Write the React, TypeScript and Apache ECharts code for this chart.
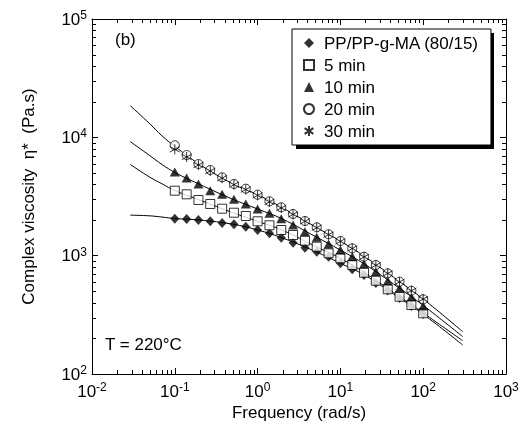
import React, { useEffect, useRef } from "react";
import * as echarts from "echarts";

const FONT = "'Liberation Sans', Arial, sans-serif";

// Frequencies of measured points (rad/s)
const freq = [0.1, 0.139, 0.193, 0.268, 0.373, 0.518, 0.72, 1.0, 1.39, 1.93, 2.68, 3.73, 5.18, 7.2, 10, 13.9, 19.3, 26.8, 37.3, 51.8, 72.0, 100];

const seriesNames = ["PP/PP-g-MA (80/15)", "5 min", "10 min", "20 min", "30 min"];

const ppBlend = [2053, 2041, 2001, 1952, 1889, 1841, 1757, 1648, 1545, 1419, 1287, 1168, 1080, 980, 862, 767, 687, 587, 508, 439, 375, 321];
const min5 = [3540, 3300, 2954, 2734, 2494, 2307, 2164, 1952, 1806, 1648, 1495, 1338, 1191, 1047, 950, 834, 718, 614, 520, 450, 383, 326];
const min10 = [5095, 4533, 4034, 3540, 3300, 2995, 2734, 2480, 2281, 2053, 1816, 1594, 1430, 1255, 1116, 980, 851, 732, 611, 530, 447, 375];
const min20 = [8566, 7090, 5952, 5297, 4595, 4034, 3681, 3275, 2880, 2563, 2250, 1963, 1737, 1516, 1330, 1154, 980, 834, 710, 603, 506, 428];
const min30 = [7925, 6820, 5840, 5200, 4520, 3980, 3620, 3230, 2850, 2530, 2230, 1950, 1725, 1505, 1320, 1150, 975, 830, 708, 600, 505, 430];

// Fitted model curves
const fitFreq = [0.029, 0.05, 0.07, 0.1, 0.2, 0.5, 1, 2, 5, 10, 20, 50, 100, 300];
const fitTop = [18500, 13000, 10300, 8400, 5900, 4050, 3280, 2540, 1750, 1330, 975, 615, 430, 228];
const fit10 = [9200, 7000, 5900, 5050, 4000, 3000, 2480, 2040, 1450, 1116, 840, 540, 380, 207];
const fit5 = [5900, 4600, 4050, 3550, 2950, 2310, 1950, 1640, 1200, 950, 710, 458, 328, 191];
const fitBlend = [2200, 2170, 2120, 2060, 2000, 1845, 1650, 1410, 1085, 862, 680, 445, 320, 176];

// Axis ranges and minor tick values
const X_MIN = 0.01;
const X_MAX = 1000;
const Y_MIN = 100;
const Y_MAX = 100000;
const xMinorTicks = [
  0.02, 0.03, 0.04, 0.05, 0.06, 0.07, 0.08, 0.09,
  0.2, 0.3, 0.4, 0.5, 0.6, 0.7, 0.8, 0.9,
  2, 3, 4, 5, 6, 7, 8, 9,
  20, 30, 40, 50, 60, 70, 80, 90,
  200, 300, 400, 500, 600, 700, 800, 900,
];
const yMinorTicks = [
  200, 300, 400, 500, 600, 700, 800, 900,
  2000, 3000, 4000, 5000, 6000, 7000, 8000, 9000,
  20000, 30000, 40000, 50000, 60000, 70000, 80000, 90000,
];

const zip = (xs: number[], ys: number[]) => xs.map((x, i) => [x, ys[i]]);

const powLabel = (v: number) => {
  const e = Math.round(Math.log10(v));
  return `{b|10}{s|${e}}`;
};
const labelRich = {
  b: { fontSize: 17, lineHeight: 20, color: "#000", fontFamily: FONT },
  s: { fontSize: 12, lineHeight: 12, verticalAlign: "top", color: "#000", fontFamily: FONT },
};

const STAR = "path://M5,0L5,10M0.6,2.2L9.4,7.8M0.6,7.8L9.4,2.2";

export default function App() {
  const ref = useRef<HTMLDivElement>(null);
  useEffect(() => {
    if (!ref.current) return;
    const chart = echarts.init(ref.current, null, { renderer: "svg" });
    const axisLine = { show: true, onZero: false, lineStyle: { color: "#000", width: 1 } };
    const axisTick = { show: true, inside: true, length: 6, lineStyle: { color: "#000", width: 1 } };
    const tickLine = (x1: number, y1: number, x2: number, y2: number) => ({
      type: "line",
      shape: { x1, y1, x2, y2 },
      style: { stroke: "#000", lineWidth: 1 },
    });
    const fitLine = (data: number[][]) => ({
      type: "line",
      data,
      showSymbol: false,
      symbol: "none",
      smooth: 0.4,
      lineStyle: { color: "#000", width: 1 },
      silent: true,
      z: 2,
    });
    const scatter = (name: string, data: number[][], symbol: string, size: any, itemStyle: any) => ({
      type: "scatter",
      name,
      data,
      symbol,
      symbolSize: size,
      itemStyle,
      z: 3,
    });
    const option: any = {
      animation: false,
      textStyle: { fontFamily: FONT },
      grid: { left: 92, right: 15, top: 19, bottom: 55, containLabel: false, outerBoundsMode: "none" },
      xAxis: [
        {
          type: "log",
          logBase: 10,
          min: X_MIN,
          max: X_MAX,
          position: "bottom",
          name: "Frequency (rad/s)",
          nameLocation: "middle",
          nameGap: 30,
          nameTextStyle: { fontSize: 17, color: "#000", fontFamily: FONT },
          axisLine,
          axisTick,
          axisLabel: { margin: 7, formatter: powLabel, rich: labelRich },
          splitLine: { show: false },
        },
        {
          type: "log",
          logBase: 10,
          min: X_MIN,
          max: X_MAX,
          position: "top",
          axisLine,
          axisTick,
          axisLabel: { show: false },
          splitLine: { show: false },
        },
      ],
      yAxis: [
        {
          type: "log",
          logBase: 10,
          min: Y_MIN,
          max: Y_MAX,
          position: "left",
          name: "Complex viscosity  η*  (Pa.s)",
          nameLocation: "middle",
          nameGap: 55,
          nameTextStyle: { fontSize: 17, color: "#000", fontFamily: FONT },
          axisLine,
          axisTick,
          axisLabel: { margin: 5, formatter: powLabel, rich: labelRich },
          splitLine: { show: false },
        },
        {
          type: "log",
          logBase: 10,
          min: Y_MIN,
          max: Y_MAX,
          position: "right",
          axisLine,
          axisTick,
          axisLabel: { show: false },
          splitLine: { show: false },
        },
      ],
      legend: {
        orient: "vertical",
        left: 292,
        top: 29,
        padding: [4, 12, 4, 11],
        itemWidth: 10,
        itemHeight: 10,
        itemGap: 2,
        backgroundColor: "#fff",
        borderColor: "#000",
        borderWidth: 1,
        z: 20,
        data: seriesNames,
        textStyle: { fontSize: 17, lineHeight: 20, color: "#000", fontFamily: FONT, padding: [0, 0, 0, 5] },
      },
      graphic: [
        { type: "rect", left: 296, top: 33, shape: { width: 198, height: 116 }, style: { fill: "#000" }, z: 1 },
        { type: "text", left: 115, top: 31, style: { text: "(b)", fontSize: 17, fill: "#000", font: `17px ${FONT}` }, z: 5 },
        { type: "text", left: 105, top: 336, style: { text: "T = 220°C", fontSize: 17, fill: "#000", font: `17px ${FONT}` }, z: 5 },
      ],
      series: [
        fitLine(zip(fitFreq, fitTop)),
        fitLine(zip(fitFreq, fit10)),
        fitLine(zip(fitFreq, fit5)),
        fitLine(zip(fitFreq, fitBlend)),
        scatter(seriesNames[0], zip(freq, ppBlend), "diamond", [9, 10], { color: "#000" }),
        scatter(seriesNames[1], zip(freq, min5), "rect", 9, { color: "#fff", borderColor: "#000", borderWidth: 1 }),
        scatter(seriesNames[2], zip(freq, min10), "triangle", [10, 9], { color: "#000" }),
        scatter(seriesNames[3], zip(freq, min20), "circle", 9, { color: "#fff", borderColor: "#000", borderWidth: 1 }),
        scatter(seriesNames[4], zip(freq, min30), STAR, 10, { color: "#000", borderColor: "#000", borderWidth: 1 }),
        {
          type: "custom",
          silent: true,
          clip: false,
          z: 4,
          data: xMinorTicks.map((v) => [v, Y_MIN]),
          renderItem: (_p: any, api: any) => {
            const v = api.value(0);
            const b = api.coord([v, Y_MIN]);
            const t = api.coord([v, Y_MAX]);
            const x = Math.round(b[0]) + 0.5;
            return {
              type: "group",
              children: [tickLine(x, b[1], x, b[1] - 4), tickLine(x, t[1], x, t[1] + 4)],
            };
          },
        },
        {
          type: "custom",
          silent: true,
          clip: false,
          z: 4,
          data: yMinorTicks.map((v) => [X_MIN, v]),
          renderItem: (_p: any, api: any) => {
            const v = api.value(1);
            const l = api.coord([X_MIN, v]);
            const r = api.coord([X_MAX, v]);
            const y = Math.round(l[1]) + 0.5;
            return {
              type: "group",
              children: [tickLine(l[0], y, l[0] + 4, y), tickLine(r[0], y, r[0] - 4, y)],
            };
          },
        },
      ],
    };
    chart.setOption(option);
    return () => chart.dispose();
  }, []);
  return <div ref={ref} style={{ position: "fixed", left: 0, top: 0, width: 521, height: 429 }} />;
}
